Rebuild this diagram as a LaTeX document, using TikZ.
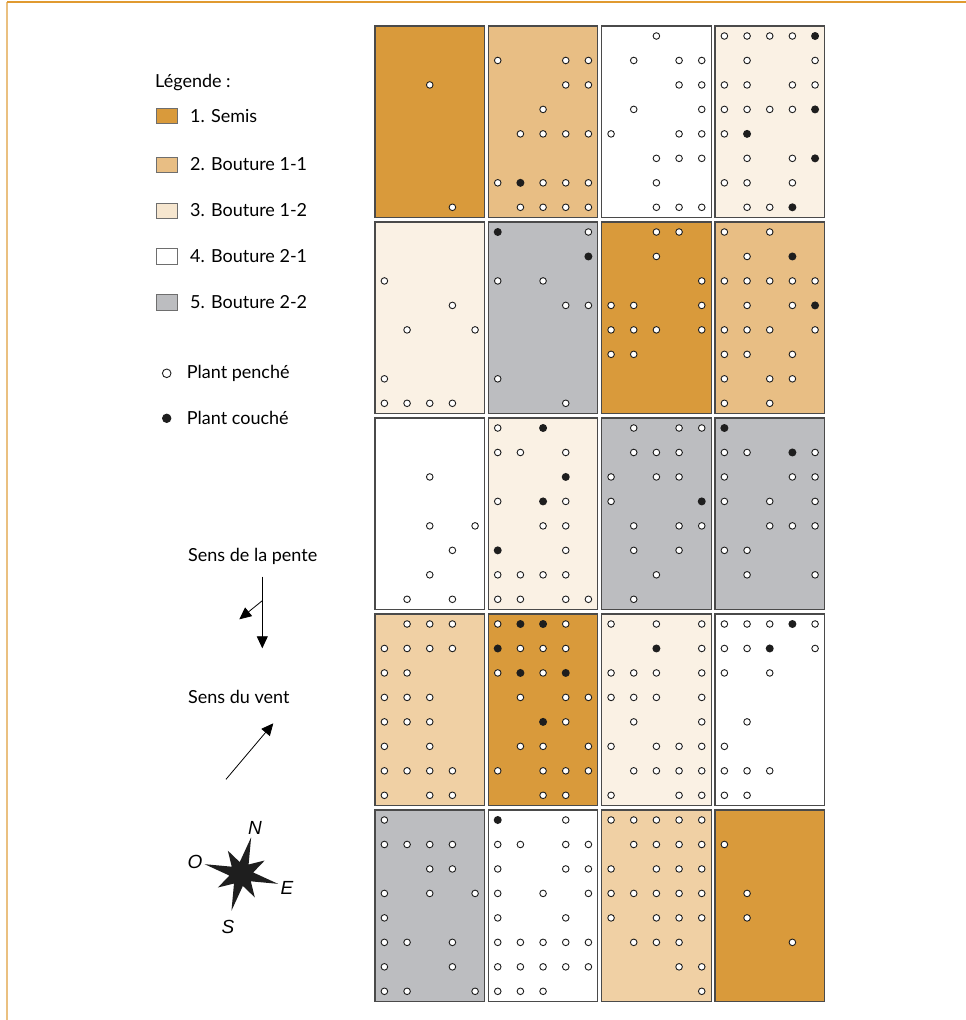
\documentclass[tikz,border=0pt]{standalone}
\usepackage{fontspec}
\setmainfont{Lato}
\newfontfamily\compassfont{Liberation Sans}
\usetikzlibrary{arrows.meta}
\definecolor{semis}{HTML}{D99A3B}
\definecolor{boutA}{HTML}{E8BE84}
\definecolor{boutB}{HTML}{FAF1E4}
\definecolor{boutBleg}{HTML}{F6E6CF}
\definecolor{boutC}{HTML}{FFFFFF}
\definecolor{boutD}{HTML}{BCBDC0}
\definecolor{tanlight}{HTML}{F0D0A4}
\definecolor{frameor}{HTML}{E09A30}
\definecolor{frameorl}{HTML}{EAC080}
\definecolor{borderc}{HTML}{4A4A4A}
\definecolor{dotc}{HTML}{1E1E1E}
\tikzset{
  plotbox/.style={draw=borderc, line width=1.1pt, minimum width=109.4pt, minimum height=191.3pt, inner sep=0pt, outer sep=0pt, anchor=north west},
  opendot/.style={draw=dotc, fill=white, line width=0.9pt},
  filldot/.style={fill=dotc},
  legsq/.style={draw=borderc!80, line width=1pt, minimum width=20.6pt, minimum height=15.3pt, inner sep=0pt},
  legtxt/.style={anchor=west, inner sep=0pt, font=\fontsize{18}{21}\selectfont},
  arr/.style={line width=0.8pt, -{Triangle[length=12pt,width=11pt]}},
  cpt/.style={font=\compassfont\itshape\fontsize{19}{22}\selectfont, inner sep=0pt}
}
\def\PX{0}\def\PY{0}
\newcommand\plotat[3]{\pgfmathsetmacro\PX{375+113.33*(#1-1)}\pgfmathsetmacro\PY{26+196*(#2-1)}%
  \node[plotbox,fill=#3] (p#2#1) at (\PX,\PY) {};}
\newcommand\pdot[3]{%
  \if#3o\draw[opendot] ({\PX+9.4+22.67*#1},{\PY+10+24.47*#2}) circle[radius=3.3pt];\fi
  \if#3*\fill[filldot] ({\PX+9.4+22.67*#1},{\PY+10+24.47*#2}) circle[radius=4pt];\fi}
\newcommand\prow[6]{\pdot{0}{#1}{#2}\pdot{1}{#1}{#3}\pdot{2}{#1}{#4}\pdot{3}{#1}{#5}\pdot{4}{#1}{#6}}
\newcommand\prows[8]{\prow0#1\prow1#2\prow2#3\prow3#4\prow4#5\prow5#6\prow6#7\prow7#8}
\begin{document}
\begin{tikzpicture}[x=1pt,y=-1pt]
\useasboundingbox (0,0) rectangle (966,1020);
\fill[white] (0,0) rectangle (966,1020);
% page frame
\draw[frameorl, line width=1.6pt] (7,2) -- (7,1020);
\draw[frameor, line width=1.6pt] (7,2) -- (966,2);

% ---- row 1
\plotat{1}{1}{semis}\prows{.....}{.....}{..o..}{.....}{.....}{.....}{.....}{...o.}
\plotat{2}{1}{boutA}\prows{.....}{o..oo}{...oo}{..o..}{.oooo}{.....}{o*ooo}{.oooo}
\plotat{3}{1}{boutC}\prows{..o..}{.o.oo}{...oo}{.o..o}{o..oo}{..ooo}{..o..}{..ooo}
\plotat{4}{1}{boutB}\prows{oooo*}{.o..o}{oo.oo}{oooo*}{o*...}{.o.o*}{oo.o.}{.oo*.}
% ---- row 2
\plotat{1}{2}{boutB}\prows{.....}{.....}{o....}{...o.}{.o..o}{.....}{o....}{oooo.}
\plotat{2}{2}{boutD}\prows{*...o}{....*}{o.o..}{...oo}{.....}{.....}{o....}{...o.}
\plotat{3}{2}{semis}\prows{..oo.}{..o..}{....o}{oo..o}{ooo.o}{oo...}{.....}{.....}
\plotat{4}{2}{boutA}\prows{o.o..}{.o.*.}{ooooo}{.o.o*}{ooo.o}{oo.o.}{o.oo.}{o.o..}
% ---- row 3
\plotat{1}{3}{boutC}\prows{.....}{.....}{..o..}{.....}{..o.o}{...o.}{..o..}{.o.o.}
\plotat{2}{3}{boutB}\prows{o.*..}{oo.o.}{...*.}{o.*o.}{..oo.}{*..o.}{oooo.}{oo.oo}
\plotat{3}{3}{boutD}\prows{.o.oo}{.ooo.}{o.oo.}{o...*}{.o.oo}{.o.o.}{..o..}{.o...}
\plotat{4}{3}{boutD}\prows{*....}{oo.*o}{o..oo}{o.o.o}{..ooo}{oo...}{.o..o}{.....}
% ---- row 4
\plotat{1}{4}{tanlight}\prows{.ooo.}{oooo.}{oo...}{ooo..}{ooo..}{o.o..}{oooo.}{o.oo.}
\plotat{2}{4}{semis}\prows{o**o.}{*ooo.}{o*o*.}{.o.oo}{..*o.}{.oo.o}{o.ooo}{..oo.}
\plotat{3}{4}{boutB}\prows{o.o.o}{..*.o}{ooo.o}{ooo.o}{.o..o}{o.ooo}{.oooo}{o..oo}
\plotat{4}{4}{boutC}\prows{ooo*o}{oo*.o}{o.o..}{.....}{.o...}{o....}{ooo..}{oo...}
% ---- row 5
\plotat{1}{5}{boutD}\prows{o....}{oooo.}{..oo.}{o.o.o}{o....}{oo.o.}{o..o.}{oo..o}
\plotat{2}{5}{boutC}\prows{*..o.}{oo.oo}{o..oo}{o.o.o}{o..o.}{ooooo}{ooooo}{ooo..}
\plotat{3}{5}{tanlight}\prows{ooooo}{.oooo}{o.ooo}{ooooo}{o.ooo}{.ooo.}{...oo}{....o}
\plotat{4}{5}{semis}\prows{.....}{o....}{.....}{.o...}{.o...}{...o.}{.....}{.....}

% ---- legend
\node[legtxt] (legtitle) at (155,83) {Légende :};
\node[legsq, fill=semis] (sq1) at (167,115.7) {};
\node[legsq, fill=boutA] (sq2) at (167,165.3) {};
\node[legsq, fill=boutBleg] (sq3) at (167,210.7) {};
\node[legsq, fill=white] (sq4) at (167,256.5) {};
\node[legsq, fill=boutD] (sq5) at (167,302.5) {};
\node[legtxt] (l1) at (190,116.5) {1. Semis};
\node[legtxt] (l2) at (190,164) {2. Bouture 1-1};
\node[legtxt] (l3) at (190,210) {3. Bouture 1-2};
\node[legtxt] (l4) at (190,256) {4. Bouture 2-1};
\node[legtxt] (l5) at (190,302.5) {5. Bouture 2-2};
\node[circle, draw=dotc, fill=white, line width=0.9pt, minimum size=8.6pt, inner sep=0pt] (dopen) at (166.7,373.3) {};
\node[circle, fill=dotc, minimum size=9.4pt, inner sep=0pt] (dfull) at (166.7,418.3) {};
\node[legtxt] (lp) at (186.7,373.3) {Plant penché};
\node[legtxt] (lc) at (186.7,418.3) {Plant couché};

% ---- slope
\node[legtxt] (tpente) at (188,556.7) {Sens de la pente};
\coordinate (pA) at (262.3,576.7);
\coordinate (pB) at (262.3,648.3);
\coordinate (pM) at (262.3,600.7);
\coordinate (pC) at (239.3,619.3);
\draw[arr] (pA) -- (pB);
\draw[arr] (pM) -- (pC);

% ---- wind
\node[legtxt] (tvent) at (188,696.7) {Sens du vent};
\coordinate (vA) at (226,779.3);
\coordinate (vB) at (273.3,723.3);
\draw[arr] (vA) -- (vB);

% ---- compass
\coordinate (cc) at (241.3,874);
\begin{scope}[shift={(cc)}, y=1pt]
\fill[dotc] (75:38) -- (97.5:12) -- (120:27) -- (142.5:12) -- (165:38) -- (187.5:12)
  -- (210:27) -- (232.5:12) -- (255:38) -- (277.5:12) -- (300:27) -- (322.5:12)
  -- (345:38) -- (7.5:12) -- (30:27) -- (52.5:12) -- cycle;
\end{scope}
\node[cpt] (cN) at (255,828) {N};
\node[cpt] (cE) at (287,888) {E};
\node[cpt] (cO) at (195,862) {O};
\node[cpt] (cS) at (228,927) {S};
\end{tikzpicture}
\end{document}
